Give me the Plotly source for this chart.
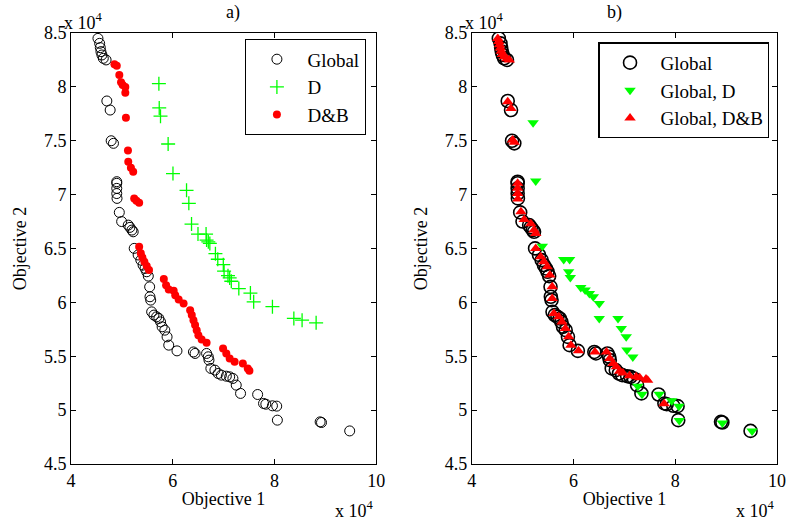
import plotly.graph_objects as go

# Data in units of 1e4 (as displayed on axes)
global_x = [4.53, 4.563, 4.576, 4.589, 4.608, 4.635, 4.69, 4.705, 4.77, 4.79, 4.835, 4.90, 4.90, 4.90, 4.90,
            4.905, 4.95, 4.996, 5.126, 5.159, 5.198, 5.223, 5.243, 5.32, 5.373, 5.417, 5.456, 5.489, 5.52,
            5.547, 5.553, 5.567, 5.586, 5.631, 5.683, 5.728, 5.761, 5.792, 5.845, 5.889, 5.922, 6.084,
            6.408, 6.44, 6.666, 6.70, 6.713, 6.75, 6.83, 6.893, 6.957, 7.054, 7.12, 7.184, 7.249, 7.334,
            7.67, 7.786, 7.831, 7.961, 8.045, 8.058, 8.899, 8.926, 9.48]
global_y = [8.45, 8.404, 8.364, 8.327, 8.296, 8.265, 8.25, 7.869, 7.785, 7.50, 7.476, 7.12, 7.105, 7.058, 7.01,
            6.965, 6.835, 6.75, 6.717, 6.696, 6.671, 6.655, 6.501, 6.44, 6.392, 6.346, 6.315, 6.284, 6.244,
            6.144, 6.052, 6.021, 5.912, 5.882, 5.866, 5.851, 5.819, 5.773, 5.742, 5.68, 5.603, 5.55,
            5.54, 5.526, 5.526, 5.495, 5.464, 5.387, 5.371, 5.34, 5.325, 5.315, 5.309, 5.294, 5.232, 5.155,
            5.145, 5.062, 5.055, 5.04, 5.037, 4.907, 4.891, 4.885, 4.807]

d_x = [5.728, 5.735, 5.76, 5.91, 6.005, 6.272, 6.317, 6.37, 6.497, 6.656, 6.666, 6.70, 6.73, 6.84, 6.886,
       6.995, 7.01, 7.087, 7.12, 7.152, 7.30, 7.528, 7.592, 7.961, 8.382, 8.544, 8.82]
d_y = [8.03, 7.805, 7.728, 7.47, 7.195, 7.04, 6.919, 6.727, 6.634, 6.634, 6.578, 6.562, 6.547, 6.452, 6.40,
       6.35, 6.29, 6.248, 6.227, 6.196, 6.128, 6.086, 6.005, 5.96, 5.851, 5.835, 5.81]

db_x = [4.854, 4.90, 4.95, 4.984, 5.016, 5.068, 5.068, 5.08, 5.12, 5.126, 5.178, 5.223, 5.243, 5.287, 5.34,
        5.34, 5.373, 5.404, 5.443, 5.489, 5.534, 5.825, 5.87, 5.922, 6.019, 6.05, 6.117, 6.214, 6.343,
        6.375, 6.408, 6.44, 6.472, 6.505, 6.569, 6.666, 6.99, 7.054, 7.12, 7.217, 7.379, 7.476, 7.508]
db_y = [8.209, 8.196, 8.11, 8.042, 8.017, 8.0, 7.946, 7.714, 7.41, 7.305, 7.249, 7.212, 6.965, 6.943, 6.924,
        6.516, 6.455, 6.417, 6.377, 6.337, 6.30, 6.216, 6.16, 6.12, 6.107, 6.067, 6.027, 5.99, 5.928,
        5.882, 5.835, 5.789, 5.742, 5.696, 5.656, 5.625, 5.572, 5.526, 5.48, 5.448, 5.433, 5.387, 5.365]

gd_x = [5.204, 5.256, 5.385, 5.806, 5.922, 5.903, 5.936, 6.142, 6.227, 6.311, 6.388, 6.505, 6.505, 6.874,
        6.938, 7.035, 7.049, 7.165, 7.262, 7.346, 7.683, 7.928, 8.072, 8.078, 8.926, 9.51]
gd_y = [7.667, 7.126, 6.522, 6.399, 6.399, 6.284, 6.232, 6.139, 6.114, 6.083, 6.052, 5.99, 5.851, 5.851,
        5.758, 5.68, 5.557, 5.494, 5.222, 5.148, 5.148, 5.086, 5.037, 4.904, 4.88, 4.807]

gdb_x = [4.51, 4.53, 4.544, 4.56, 4.577, 4.60, 4.64, 4.69, 4.738, 4.705, 4.77, 4.80, 4.835, 4.90, 4.90, 4.90,
         4.905, 4.965, 5.03, 5.16, 5.223, 5.256, 5.256, 5.353, 5.417, 5.482, 5.534, 5.58, 5.58, 5.612,
         5.709, 5.773, 5.839, 5.903, 5.948, 6.097, 6.421, 6.647, 6.712, 6.777, 6.841, 6.906, 6.97, 7.10,
         7.23, 7.30, 7.424, 7.456, 7.78]
gdb_y = [8.45, 8.42, 8.39, 8.36, 8.33, 8.30, 8.28, 8.26, 8.25, 7.862, 7.80, 7.507, 7.485, 7.105, 7.06, 7.01,
         6.96, 6.84, 6.77, 6.73, 6.671, 6.64, 6.50, 6.423, 6.377, 6.33, 6.253, 6.144, 6.036, 5.897,
         5.866, 5.819, 5.758, 5.68, 5.603, 5.55, 5.54, 5.54, 5.48, 5.433, 5.402, 5.36, 5.345, 5.32,
         5.31, 5.30, 5.29, 5.278, 5.06]

x_ticks = [4, 6, 8, 10]
y_ticks = [4.5, 5, 5.5, 6, 6.5, 7, 7.5, 8, 8.5]
y_tick_text = ["4.5", "5", "5.5", "6", "6.5", "7", "7.5", "8", "8.5"]

FONT = "Liberation Serif"
GREEN = "#00ff00"
RED = "#ff0000"

fig = go.Figure()

# Left panel
fig.add_trace(go.Scatter(x=global_x, y=global_y, mode="markers", name="Global",
                         marker=dict(symbol="circle-open", size=10, color="black", line=dict(width=1)),
                         xaxis="x", yaxis="y", legend="legend"))
fig.add_trace(go.Scatter(x=d_x, y=d_y, mode="markers", name="D",
                         marker=dict(symbol="cross-thin-open", size=10, color=GREEN, line=dict(width=1.3, color=GREEN)),
                         xaxis="x", yaxis="y", legend="legend"))
fig.add_trace(go.Scatter(x=db_x, y=db_y, mode="markers", name="D&B",
                         marker=dict(symbol="circle", size=8, color=RED),
                         xaxis="x", yaxis="y", legend="legend"))

# Right panel
fig.add_trace(go.Scatter(x=global_x, y=global_y, mode="markers", name="Global",
                         marker=dict(symbol="circle-open", size=13, color="black", line=dict(width=1.6)),
                         xaxis="x2", yaxis="y2", legend="legend2"))
fig.add_trace(go.Scatter(x=gd_x, y=gd_y, mode="markers", name="Global, D",
                         marker=dict(symbol="triangle-down", size=10, color=GREEN),
                         xaxis="x2", yaxis="y2", legend="legend2"))
fig.add_trace(go.Scatter(x=gdb_x, y=gdb_y, mode="markers", name="Global, D&B",
                         marker=dict(symbol="triangle-up", size=10, color=RED),
                         xaxis="x2", yaxis="y2", legend="legend2"))

axis_common = dict(showline=True, linecolor="black", linewidth=1, mirror="ticks", ticks="inside",
                   ticklen=5, tickcolor="black", showgrid=False, zeroline=False,
                   tickfont=dict(family=FONT, size=18, color="black"))

L0, L1, R0, R1 = 0.0, 0.4322, 0.5678, 1.0
title_font = dict(family=FONT, size=18, color="black")
legend_font = dict(family=FONT, size=19, color="black")

fig.update_layout(
    width=797, height=522,
    margin=dict(l=71, r=11, t=33, b=58),
    paper_bgcolor="white", plot_bgcolor="white",
    font=dict(family=FONT, size=18, color="black"),
    xaxis=dict(domain=[L0, L1], range=[4, 10], tickvals=x_ticks,
               title=dict(text="Objective 1", font=title_font, standoff=2), **axis_common),
    yaxis=dict(domain=[0, 1], range=[4.5, 8.5], tickvals=y_ticks, ticktext=y_tick_text,
               title=dict(text="Objective 2", font=title_font, standoff=12), **axis_common),
    xaxis2=dict(domain=[R0, R1], range=[4, 10], tickvals=x_ticks, anchor="y2",
                title=dict(text="Objective 1", font=title_font, standoff=2), **axis_common),
    yaxis2=dict(domain=[0, 1], range=[4.5, 8.5], tickvals=y_ticks, ticktext=y_tick_text, anchor="x2",
                title=dict(text="Objective 2", font=title_font, standoff=12), **axis_common),
    legend=dict(x=0.418, y=0.986, xanchor="right", yanchor="top", bgcolor="white",
                bordercolor="black", borderwidth=1.3, font=legend_font,
                tracegroupgap=0, itemwidth=51),
    legend2=dict(x=0.989, y=0.978, xanchor="right", yanchor="top", bgcolor="white",
                 bordercolor="black", borderwidth=1.3, font=legend_font,
                 tracegroupgap=0, itemwidth=51),
    showlegend=True,
)

ann_font = dict(family=FONT, size=18, color="black")
annotations = [
    dict(text="a)", x=(L0 + L1) / 2, y=1.0, xref="paper", yref="paper", yanchor="middle", yshift=21,
         showarrow=False, font=ann_font),
    dict(text="b)", x=(R0 + R1) / 2, y=1.0, xref="paper", yref="paper", yanchor="middle", yshift=21,
         showarrow=False, font=ann_font),
    dict(text="x 10<sup>4</sup>", x=L0, y=1.0, xref="paper", yref="paper", xanchor="left", yanchor="bottom",
         xshift=-9, yshift=-2, showarrow=False, font=ann_font),
    dict(text="x 10<sup>4</sup>", x=R0, y=1.0, xref="paper", yref="paper", xanchor="left", yanchor="bottom",
         xshift=-9, yshift=-2, showarrow=False, font=ann_font),
    dict(text="x 10<sup>4</sup>", x=L1, y=0, xref="paper", yref="paper", xanchor="right", yanchor="top",
         yshift=-32, showarrow=False, font=ann_font),
    dict(text="x 10<sup>4</sup>", x=R1, y=0, xref="paper", yref="paper", xanchor="right", yanchor="top",
         yshift=-32, showarrow=False, font=ann_font),
]
fig.update_layout(annotations=annotations)

fig.write_html("out.html")
